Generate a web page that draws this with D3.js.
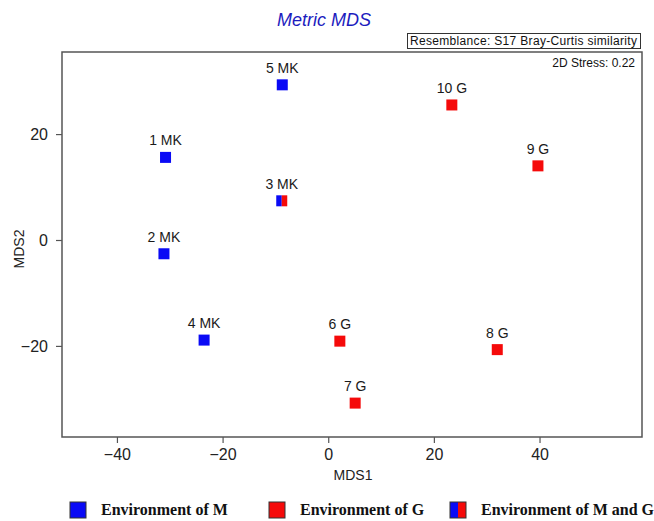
<!DOCTYPE html>
<html>
<head>
<meta charset="utf-8">
<script src="https://cdn.jsdelivr.net/npm/d3@7"></script>
<style>
  body { margin: 0; background: #fff; }
  svg { display: block; }
</style>
</head>
<body>
<svg id="chart" width="654" height="521"></svg>
<script>
// sample scores
var sampleLabels = ["1 MK", "2 MK", "3 MK", "4 MK", "5 MK", "6 G", "7 G", "8 G", "9 G", "10 G"];
var mds1 = [-30.8, -31.1, -8.8, -23.5, -8.7, 2.2, 5.1, 32.0, 39.7, 23.4];
var mds2 = [15.6, -2.6, 7.4, -18.9, 29.3, -19.1, -30.8, -20.7, 14.0, 25.5];
var groups = ["M", "M", "MG", "M", "M", "G", "G", "G", "G", "G"];

var xTicks = [-40, -20, 0, 20, 40];
var yTicks = [-20, 0, 20];

var legendGroups = ["M", "G", "MG"];
var legendLabels = ["Environment of M", "Environment of G", "Environment of M and G"];

var titleText = "Metric MDS";
var resemblanceText = "Resemblance: S17 Bray-Curtis similarity";
var stressText = "2D Stress: 0.22";

var blue = "#0a0af5", red = "#f50a0a";
var sans = "'Liberation Sans', Arial, sans-serif";

var svg = d3.select("#chart");

var box = { left: 62, right: 642, top: 52, bottom: 437 };

var x = d3.scaleLinear().domain([-50.4, 59.4]).range([box.left, box.right]);
var y = d3.scaleLinear().domain([-37.2, 35.5]).range([box.bottom, box.top]);

// title
svg.append("text")
    .attr("x", 324)
    .attr("y", 26)
    .attr("text-anchor", "middle")
    .style("font", "italic 18px " + sans)
    .style("fill", "#1c1cbe")
    .text(titleText);

// resemblance box
svg.append("rect")
    .attr("x", 407.5)
    .attr("y", 33.5)
    .attr("width", 233)
    .attr("height", 15)
    .attr("fill", "#fff")
    .attr("stroke", "#333")
    .attr("stroke-width", 1);
svg.append("text")
    .attr("x", 410)
    .attr("y", 45)
    .attr("textLength", 227)
    .style("font", "12px " + sans)
    .style("fill", "#111")
    .text(resemblanceText);

// axes
var gx = svg.append("g")
    .attr("transform", "translate(0," + box.bottom + ")")
    .call(d3.axisBottom(x).tickValues(xTicks).tickSize(6).tickSizeOuter(0).tickPadding(6));
var gy = svg.append("g")
    .attr("transform", "translate(" + box.left + ",0)")
    .call(d3.axisLeft(y).tickValues(yTicks).tickSize(6).tickSizeOuter(0).tickPadding(8));

[gx, gy].forEach(function(g) {
    g.select(".domain").remove();
    g.selectAll(".tick line").attr("stroke", "#555").attr("stroke-width", 1.2);
    g.selectAll(".tick text")
        .style("font", "16px " + sans)
        .attr("fill", "#222");
});

// plot frame
svg.append("rect")
    .attr("x", box.left)
    .attr("y", box.top)
    .attr("width", box.right - box.left)
    .attr("height", box.bottom - box.top)
    .attr("fill", "none")
    .attr("stroke", "#555")
    .attr("stroke-width", 1.5);

svg.append("text")
    .attr("x", box.right - 7)
    .attr("y", 67)
    .attr("text-anchor", "end")
    .style("font", "12px " + sans)
    .style("fill", "#111")
    .text(stressText);

// axis titles
svg.append("text")
    .attr("x", 353)
    .attr("y", 480)
    .attr("text-anchor", "middle")
    .style("font", "14px " + sans)
    .style("fill", "#222")
    .text("MDS1");
svg.append("text")
    .attr("transform", "translate(24,249) rotate(-90)")
    .attr("text-anchor", "middle")
    .style("font", "14px " + sans)
    .style("fill", "#222")
    .text("MDS2");

// points
var pts = sampleLabels.map(function(d, i) {
    return { label: d, x: mds1[i], y: mds2[i], group: groups[i] };
});

function drawSquare(g, s, group, stroke) {
    if (group == "MG") {
        g.append("rect").attr("x", -s / 2).attr("y", -s / 2).attr("width", s / 2).attr("height", s).attr("fill", blue);
        g.append("rect").attr("x", 0).attr("y", -s / 2).attr("width", s / 2).attr("height", s).attr("fill", red);
    } else {
        g.append("rect").attr("x", -s / 2).attr("y", -s / 2).attr("width", s).attr("height", s)
            .attr("fill", group == "M" ? blue : red);
    }
    if (stroke) {
        g.append("rect").attr("x", -s / 2).attr("y", -s / 2).attr("width", s).attr("height", s)
            .attr("fill", "none").attr("stroke", stroke).attr("stroke-width", 1);
    }
}

var pt = svg.selectAll(".pt")
    .data(pts)
    .enter().append("g")
    .attr("class", "pt")
    .attr("transform", function(d) { return "translate(" + x(d.x) + "," + y(d.y) + ")"; });

pt.each(function(d) { drawSquare(d3.select(this), 11, d.group, null); });

pt.append("text")
    .attr("y", -12)
    .attr("text-anchor", "middle")
    .style("font", "14px " + sans)
    .style("fill", "#1a1a1a")
    .text(function(d) { return d.label; });

// legend
var legendX = [78, 277, 458];
var lg = svg.selectAll(".lg")
    .data(legendGroups)
    .enter().append("g")
    .attr("class", "lg")
    .attr("transform", function(d, i) { return "translate(" + legendX[i] + ",510)"; });

lg.each(function(d) { drawSquare(d3.select(this), 16, d, "#333"); });

lg.append("text")
    .attr("x", 23)
    .attr("y", 5)
    .style("font", "bold 16px 'Liberation Serif', 'Times New Roman', serif")
    .style("fill", "#111")
    .text(function(d, i) { return legendLabels[i]; });
</script>
</body>
</html>
